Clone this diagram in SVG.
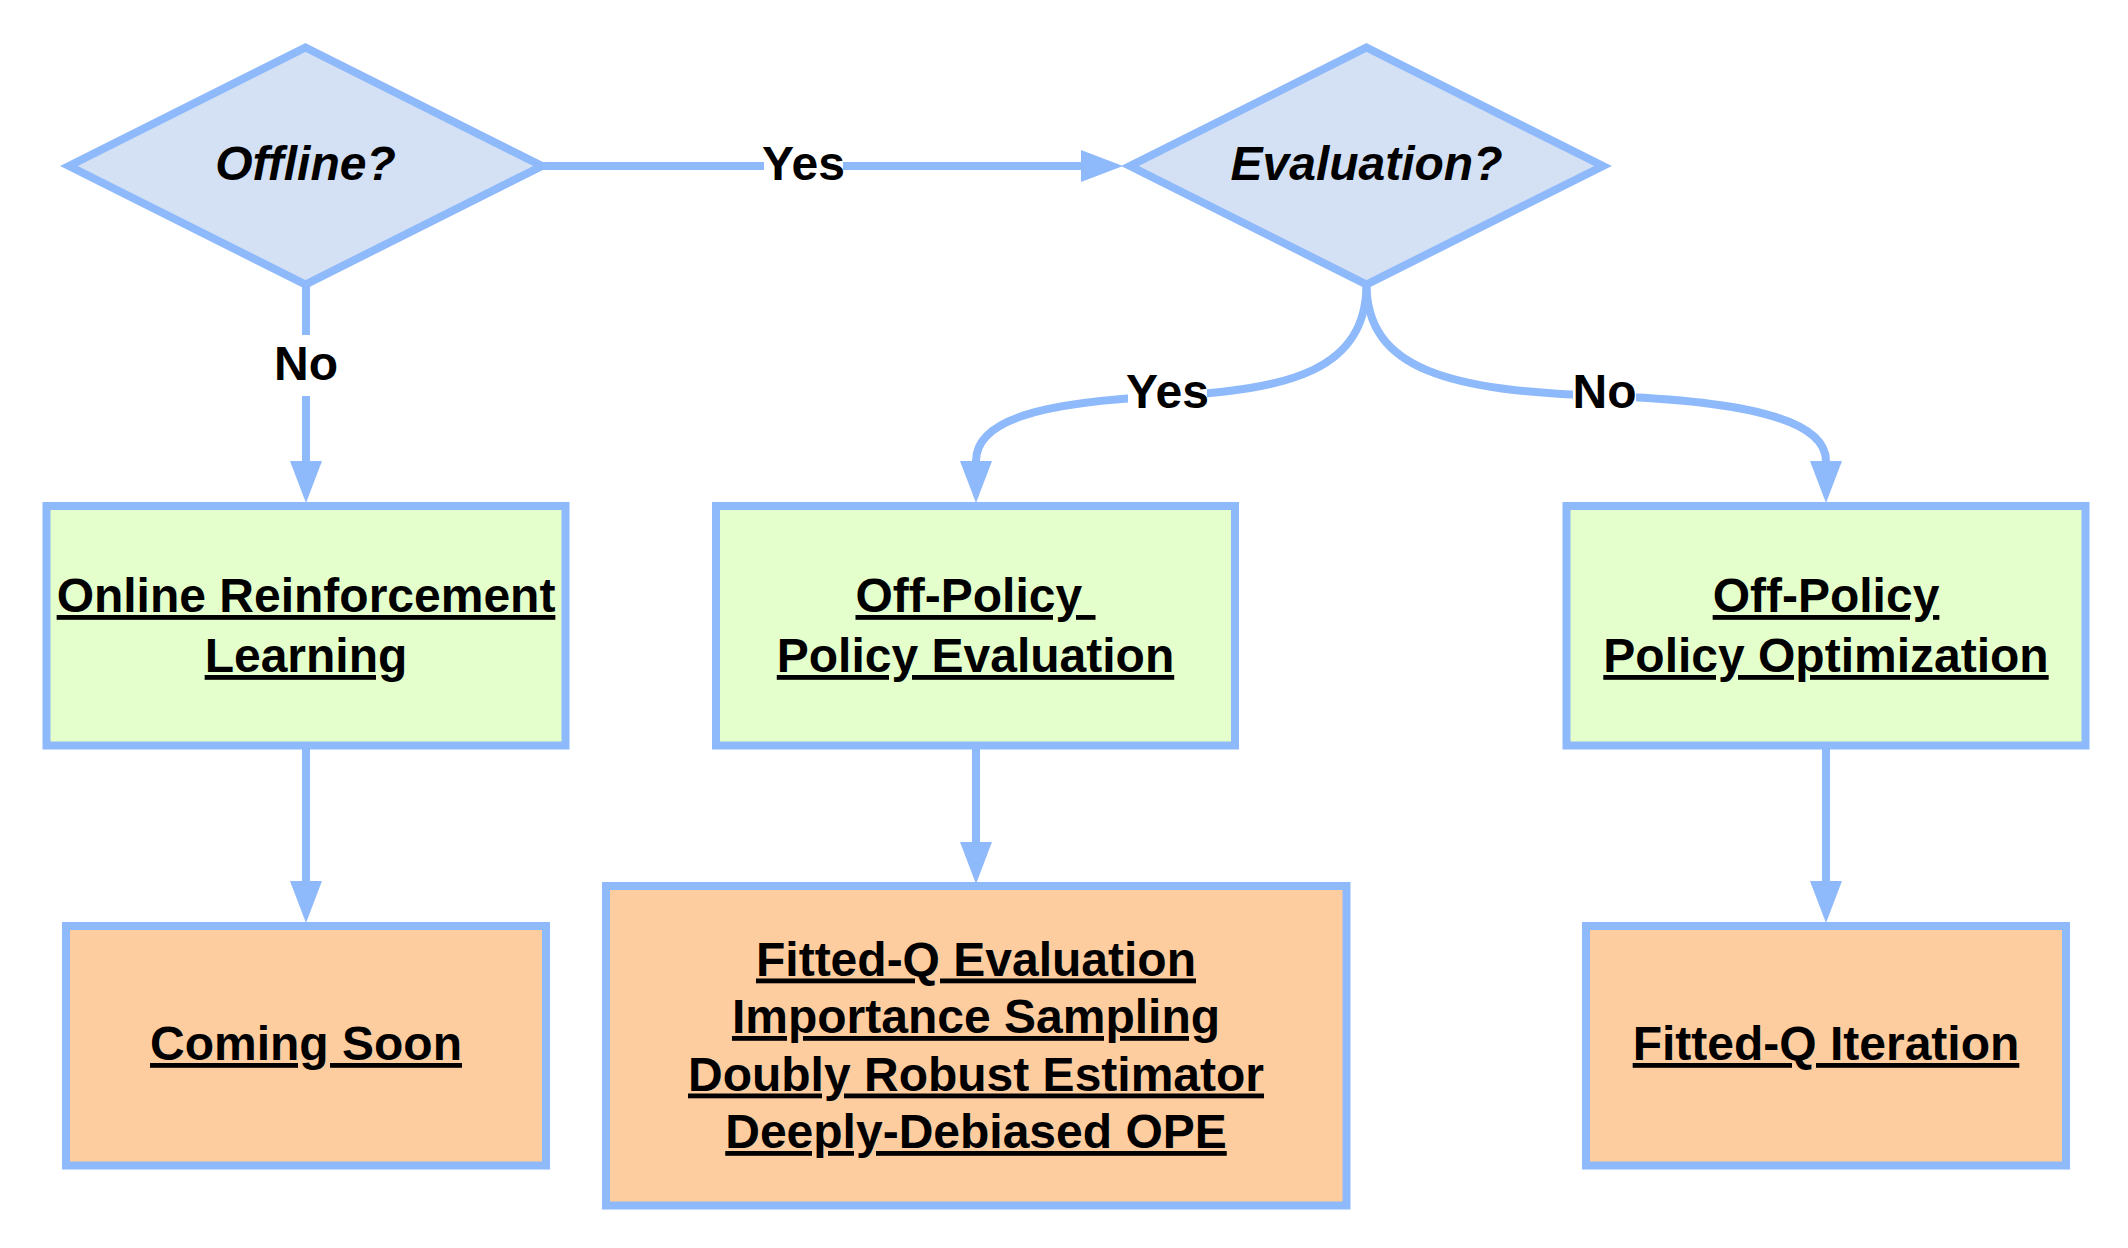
<svg xmlns="http://www.w3.org/2000/svg" width="2128" height="1248" viewBox="0 0 2128 1248">
<defs>
<style>
.dia{fill:#d4e1f5;stroke:#8eb9fb;stroke-width:8;}
.grn{fill:#e5ffcc;stroke:#8eb9fb;stroke-width:8;}
.org{fill:#fdcda0;stroke:#8eb9fb;stroke-width:8;}
.edge{fill:none;stroke:#8eb9fb;stroke-width:8;stroke-linecap:butt;}
.lbg{fill:#ffffff;stroke:none;}
text{font-family:"Liberation Sans",Arial,Helvetica,sans-serif;font-weight:bold;font-size:48px;fill:#000000;text-anchor:middle;}
.it{font-style:italic;}
.ul{text-decoration:underline;}
</style>
<marker id="arr" markerUnits="userSpaceOnUse" markerWidth="42" markerHeight="32" viewBox="0 0 42 32" refX="0" refY="16" orient="auto">
<path d="M0,0 L42,16 L0,32 Z" fill="#8eb9fb"/>
</marker>
</defs>
<rect x="0" y="0" width="2128" height="1248" fill="#ffffff"/>
<g id="connectors">
<path class="edge" d="M542,166 L1081,166" marker-end="url(#arr)"/>
<path class="edge" d="M306,284 L306,461" marker-end="url(#arr)"/>
<path class="edge" d="M1366.5,284 C1366.5,370 1290,390 1167,396 C1040,402 976,420 976,461" marker-end="url(#arr)"/>
<path class="edge" d="M1366.5,284 C1366.5,370 1450,391 1604,396 C1755,401 1826,422 1826,461" marker-end="url(#arr)"/>
<path class="edge" d="M306,746 L306,881" marker-end="url(#arr)"/>
<path class="edge" d="M976,746 L976,842" marker-end="url(#arr)"/>
<path class="edge" d="M1826,746 L1826,881" marker-end="url(#arr)"/>
<g id="edge-labels">
<rect class="lbg" x="764" y="136" width="79" height="60"/>
<text x="803.5" y="180">Yes</text>
<rect class="lbg" x="274" y="335" width="64" height="61"/>
<text x="306" y="380">No</text>
<rect class="lbg" x="1128" y="364" width="79" height="60"/>
<text x="1167.5" y="408">Yes</text>
<rect class="lbg" x="1573" y="364" width="63" height="60"/>
<text x="1604.5" y="408">No</text>
</g>
</g>
<g id="offline">
<polygon class="dia" points="305.5,47.5 542,166 305.5,284.5 69,166"/>
<text class="it" x="305.5" y="180">Offline?</text>
</g>
<g id="evaluation">
<polygon class="dia" points="1366.5,47.5 1603,166 1366.5,284.5 1130,166"/>
<text class="it" x="1366.5" y="180">Evaluation?</text>
</g>
<g id="online-rl">
<rect class="grn" x="46.5" y="506" width="519" height="239.5"/>
<text class="ul" x="306" y="612">Online Reinforcement</text>
<text class="ul" x="306" y="672">Learning</text>
</g>
<g id="ope">
<rect class="grn" x="716" y="506" width="519" height="239.5"/>
<text class="ul" x="975.5" y="612" xml:space="preserve">Off-Policy </text>
<text class="ul" x="975.5" y="672">Policy Evaluation</text>
</g>
<g id="opo">
<rect class="grn" x="1566.5" y="506" width="519" height="239.5"/>
<text class="ul" x="1826" y="612">Off-Policy</text>
<text class="ul" x="1826" y="672">Policy Optimization</text>
</g>
<g id="coming-soon">
<rect class="org" x="66" y="926" width="480" height="239.5"/>
<text class="ul" x="306" y="1060">Coming Soon</text>
</g>
<g id="ope-methods">
<rect class="org" x="606" y="886" width="740.5" height="319.5"/>
<text class="ul" x="976" y="975.5">Fitted-Q Evaluation</text>
<text class="ul" x="976" y="1033">Importance Sampling</text>
<text class="ul" x="976" y="1090.5">Doubly Robust Estimator</text>
<text class="ul" x="976" y="1148">Deeply-Debiased OPE</text>
</g>
<g id="fqi">
<rect class="org" x="1586" y="926" width="480" height="239.5"/>
<text class="ul" x="1826" y="1060">Fitted-Q Iteration</text>
</g>
</svg>
